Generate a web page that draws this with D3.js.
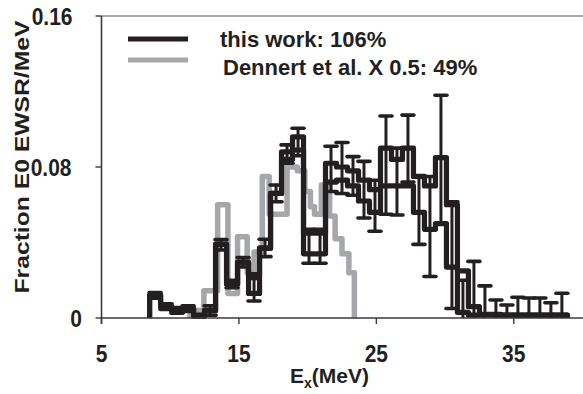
<!DOCTYPE html>
<html>
<head>
<meta charset="utf-8">
<script src="https://cdn.jsdelivr.net/npm/d3@7"></script>
<style>
  body { margin: 0; background: #fff; }
  svg { display: block; }
  text { font-family: "Liberation Sans", Arial, Helvetica, sans-serif; font-weight: bold; fill: #231f20; }
</style>
</head>
<body>
<svg id="chart" width="583" height="394"></svg>
<script>
// This work: E0 strength in 0.8 MeV bins starting at 8.5 MeV.
// Two step outlines (upper / lower) plus error bars at the bin centres.
const binStart = 8.5;
const binWidth = 0.8;
const stepHigh = [0.012, 0.006, 0.004, 0.005, 0.001, 0.004, 0.039, 0.018, 0.0295, 0.023,
                  0.037, 0.066, 0.088, 0.096, 0.045, 0.045, 0.082, 0.080, 0.078, 0.073,
                  0.068, 0.090, 0.084, 0.090, 0.075, 0.070, 0.085, 0.060, 0.025, 0.006,
                  0.002, 0.002, 0.0015, 0.0015, 0.0015, 0.0015, 0.0015, 0.0015];
const stepLow  = [0.012, 0.006, 0.004, 0.005, 0.001, 0.004, 0.039, 0.018, 0.0295, 0.013,
                  0.037, 0.066, 0.084, 0.089, 0.034, 0.034, 0.072, 0.073, 0.070, 0.062,
                  0.056, 0.070, 0.070, 0.070, 0.056, 0.047, 0.050, 0.027, 0.003, 0.0015,
                  0.0015, 0.0015, 0.0015, 0.0015, 0.0015, 0.0015, 0.0015, 0.0015];
const errBottom = [0.0105, 0.0045, 0.0025, 0.0035, 0.0, 0.0015, 0.036, 0.016, 0.027, 0.009,
                   0.0325, 0.0616, 0.082, 0.086, 0.029, 0.029, 0.067, 0.066, 0.065, 0.053,
                   0.046, 0.055, 0.0546, 0.072, 0.039, 0.022, 0.050, 0.005, 0.0, 0.0,
                   0.0, 0.0, 0.0, 0.0, 0.0, 0.0, 0.0, 0.0];
const errTop    = [0.0135, 0.0075, 0.0055, 0.0065, 0.002, 0.0065, 0.0415, 0.020, 0.032, 0.021,
                   0.0417, 0.0705, 0.0917, 0.1005, 0.047, 0.047, 0.091, 0.093, 0.0855, 0.083,
                   0.073, 0.107, 0.090, 0.1075, 0.075, 0.075, 0.118, 0.0616, 0.020, 0.030,
                   0.017, 0.0095, 0.0069, 0.011, 0.0106, 0.0106, 0.0081, 0.0131];

// Dennert et al., scaled by 0.5: bin edges (MeV) and heights.
const dennertEdges  = [11.45, 12.45, 13.45, 14.2, 14.9, 15.6, 16.1, 16.7, 17.2, 18.5,
                       19.25, 19.8, 20.2, 20.5, 21.0, 21.6, 22.0, 22.5, 23.0, 23.4];
const dennertValues = [0.004, 0.0145, 0.060, 0.013, 0.043, 0.024, 0.035, 0.075, 0.055, 0.080,
                       0.078, 0.067, 0.059, 0.055, 0.0705, 0.054, 0.042, 0.034, 0.024];

const xTicks = [5, 15, 25, 35];
const yTicks = [0, 0.08, 0.16];
const yTickLabels = ["0", "0.08", "0.16"];
const legendLabels = ["this work: 106%", "Dennert et al. X 0.5: 49%"];

const BLACK = "#231f20";
const GREY = "#a5a7aa";

const svg = d3.select("#chart");
const x = d3.scaleLinear().domain([5, 40]).range([101.5, 582.5]);
const y = d3.scaleLinear().domain([0, 0.16]).range([318, 16]);

// plot frame: top edge
svg.append("line")
  .attr("x1", x(5)).attr("x2", 583)
  .attr("y1", y(0.16)).attr("y2", y(0.16))
  .attr("stroke", "#8c8c8c").attr("stroke-width", 1.6);

// closed step outline from edges + heights
function stepPoints(edges, values) {
  const pts = [[edges[0], 0]];
  values.forEach((v, i) => { pts.push([edges[i], v]); pts.push([edges[i + 1], v]); });
  pts.push([edges[edges.length - 1], 0]);
  return pts;
}
const line = d3.line().x(d => x(d[0])).y(d => y(d[1]));

// Dennert et al. histogram
svg.append("path")
  .attr("d", line(stepPoints(dennertEdges, dennertValues)))
  .attr("fill", "none").attr("stroke", GREY).attr("stroke-width", 5.5)
  .attr("stroke-linejoin", "round");

// this work: two step outlines
const binEdges = d3.range(stepHigh.length + 1).map(i => binStart + i * binWidth);
[stepLow, stepHigh].forEach(vals => {
  svg.append("path")
    .attr("d", line(stepPoints(binEdges, vals)))
    .attr("fill", "none").attr("stroke", BLACK).attr("stroke-width", 5.2)
    .attr("stroke-linejoin", "round");
});

// error bars
const centres = stepHigh.map((_, i) => binStart + (i + 0.5) * binWidth);
const eb = svg.append("g").attr("stroke", BLACK);
centres.forEach((c, i) => {
  const cx = x(c);
  eb.append("line").attr("x1", cx).attr("x2", cx)
    .attr("y1", y(errBottom[i])).attr("y2", y(errTop[i])).attr("stroke-width", 3);
  [errBottom[i], errTop[i]].forEach(v => {
    if (v <= 0) return;
    eb.append("line").attr("x1", cx - 6).attr("x2", cx + 6)
      .attr("y1", y(v)).attr("y2", y(v)).attr("stroke-width", 3.6)
      .attr("stroke-linecap", "round");
  });
});

// axes
const axisColor = "#3a3a3a";
svg.append("line").attr("x1", x(5)).attr("x2", x(5)).attr("y1", y(0.16)).attr("y2", y(0) + 6)
  .attr("stroke", axisColor).attr("stroke-width", 1.6);
svg.append("line").attr("x1", x(5)).attr("x2", 583).attr("y1", y(0)).attr("y2", y(0))
  .attr("stroke", axisColor).attr("stroke-width", 1.6);

yTicks.forEach(t => {
  svg.append("line").attr("x1", x(5) - 6).attr("x2", x(5)).attr("y1", y(t)).attr("y2", y(t))
    .attr("stroke", axisColor).attr("stroke-width", 1.4);
});
xTicks.forEach(t => {
  svg.append("line").attr("x1", x(t)).attr("x2", x(t)).attr("y1", y(0)).attr("y2", y(0) + 6)
    .attr("stroke", axisColor).attr("stroke-width", 1.4);
});

// tick labels (slightly tall glyphs)
const yLabelRight = { "0": 82, "0.08": 71.5, "0.16": 72.5 };
yTicks.forEach((t, i) => {
  const lab = yTickLabels[i];
  svg.append("text")
    .attr("transform", `translate(${yLabelRight[lab]},${y(t) + 8.5}) scale(1,1.12)`)
    .attr("text-anchor", "end").attr("font-size", 21).text(lab);
});
xTicks.forEach(t => {
  svg.append("text")
    .attr("transform", `translate(${x(t)},${361.5}) scale(1,1.12)`)
    .attr("text-anchor", "middle").attr("font-size", 21).text(t);
});

// axis titles
const xt = svg.append("text").attr("x", 290).attr("y", 383).attr("font-size", 21);
xt.append("tspan").text("E");
xt.append("tspan").attr("font-size", 14).attr("dy", 5).text("x");
xt.append("tspan").attr("dy", -5).text("(MeV)");

svg.append("text")
  .attr("transform", "translate(29,157) rotate(-90)")
  .attr("text-anchor", "middle").attr("font-size", 21)
  .attr("textLength", 273).attr("lengthAdjust", "spacingAndGlyphs")
  .text("Fraction E0 EWSR/MeV");

// legend
const legend = [
  { color: BLACK, y: 39, ty: 47, tx: 220, width: 5 },
  { color: GREY, y: 60, ty: 75, tx: 223, width: 5 }
];
legend.forEach((d, i) => {
  svg.append("line").attr("x1", 128).attr("x2", 188).attr("y1", d.y).attr("y2", d.y)
    .attr("stroke", d.color).attr("stroke-width", d.width);
  svg.append("text").attr("x", d.tx).attr("y", d.ty).attr("font-size", 22).text(legendLabels[i]);
});
</script>
</body>
</html>
